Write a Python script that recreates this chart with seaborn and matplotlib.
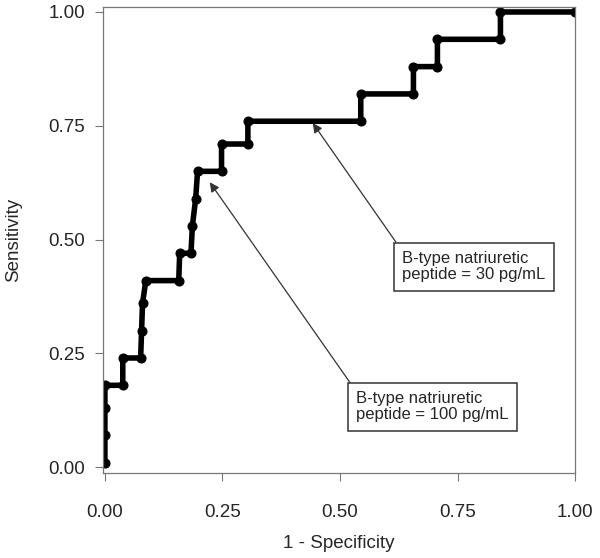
import pandas as pd
import matplotlib
matplotlib.use('Agg')
import matplotlib.pyplot as plt
import seaborn as sns

# точки ROC-кривой
fpr = [0.0, 0.0, 0.0, 0.0, 0.038, 0.038, 0.076, 0.078, 0.080, 0.087, 0.157, 0.159,
       0.183, 0.186, 0.193, 0.197, 0.248, 0.248, 0.304, 0.304, 0.544, 0.544,
       0.656, 0.656, 0.707, 0.707, 0.841, 0.841, 1.0]
tpr = [0.01, 0.07, 0.13, 0.18, 0.18, 0.24, 0.24, 0.30, 0.36, 0.41, 0.41, 0.47,
       0.47, 0.53, 0.59, 0.65, 0.65, 0.71, 0.71, 0.76, 0.76, 0.82,
       0.82, 0.88, 0.88, 0.94, 0.94, 1.0, 1.0]

ticks = [0.0, 0.25, 0.5, 0.75, 1.0]
tick_labels = ['0.00', '0.25', '0.50', '0.75', '1.00']

notes = ['B-type natriuretic\npeptide = 30 pg/mL', 'B-type natriuretic\npeptide = 100 pg/mL']
note_targets = [(0.442, 0.756), (0.223, 0.626)]
note_boxes = [(0.632, 0.475), (0.534, 0.167)]

df = pd.DataFrame({'1 - Specificity': fpr, 'Sensitivity': tpr})

sns.set_style('ticks')
plt.rcParams['font.family'] = ['Liberation Sans', 'DejaVu Sans']

fig = plt.figure(figsize=(6, 5.58), dpi=100)
ax = fig.add_axes([0.1717, 0.152, 0.787, 0.8355])

sns.lineplot(data=df, x='1 - Specificity', y='Sensitivity', sort=False, estimator=None,
             color='black', linewidth=4.0, marker='o', markersize=6.5,
             markeredgecolor='black', ax=ax)

ax.set_xlim(-0.004, 1.0)
ax.set_ylim(-0.013, 1.011)
ax.set_xticks(ticks)
ax.set_xticklabels(tick_labels)
ax.set_yticks(ticks)
ax.set_yticklabels(tick_labels)
ax.tick_params(labelsize=13.5, length=6, width=0.8, color='#777777')
ax.tick_params(axis='x', pad=16)
ax.tick_params(axis='y', pad=7)
for s in ax.spines.values():
    s.set_color('#777777')
    s.set_linewidth(0.9)
ax.set_xlabel('1 - Specificity', fontsize=13.5, labelpad=10)
ax.set_ylabel('Sensitivity', fontsize=13.5, labelpad=19)

for txt, tgt, box in zip(notes, note_targets, note_boxes):
    ax.annotate(txt, xy=tgt, xytext=box, ha='left', va='top', fontsize=12,
                linespacing=1.1,
                bbox=dict(boxstyle='square,pad=0.5', fc='white', ec='#333333', lw=1.1),
                arrowprops=dict(arrowstyle='-|>', color='#333333', lw=0.9,
                                mutation_scale=14, relpos=(0, 1), shrinkA=0, shrinkB=0))

plt.savefig('out.png', dpi=100)
